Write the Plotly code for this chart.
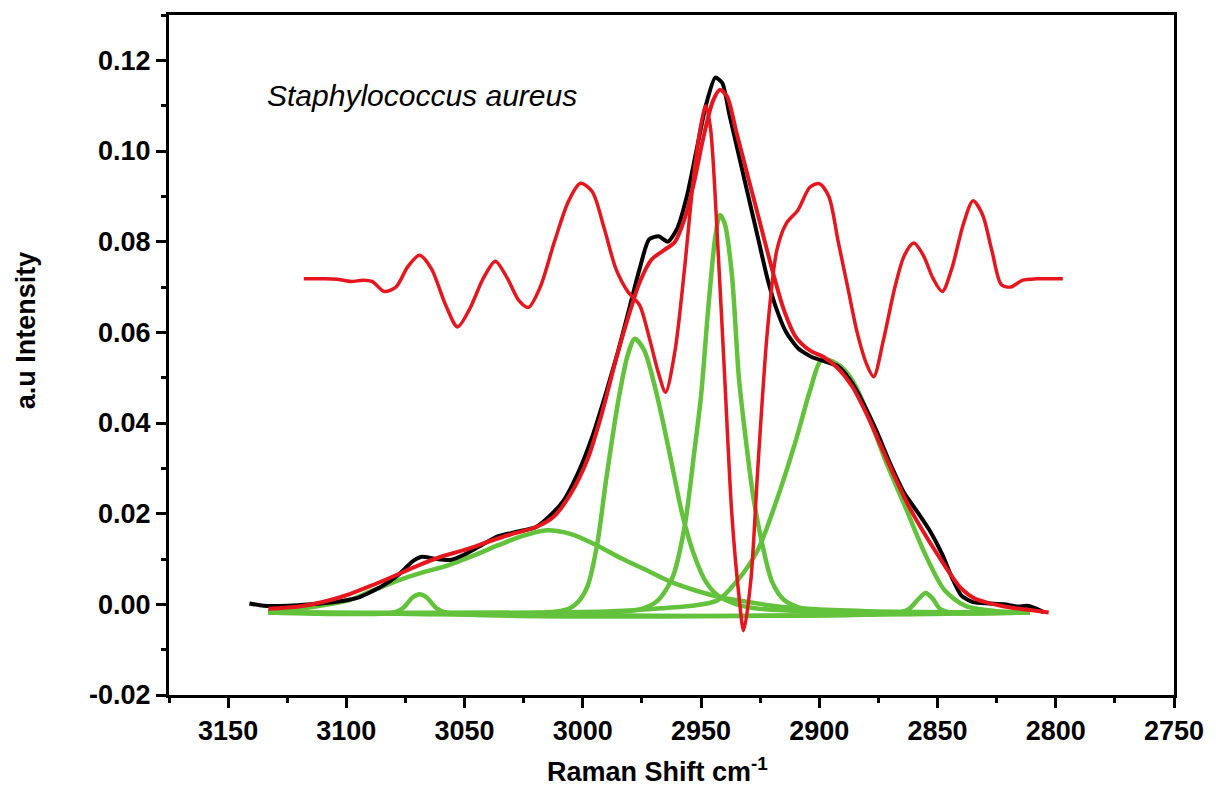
import plotly.graph_objects as go

# ---------------- data ----------------
spec_x = [3141, 3135, 3125, 3115, 3105, 3095, 3085, 3078, 3072, 3068, 3062, 3056, 3050, 3043,
          3036, 3028, 3020, 3014, 3008, 3002, 2996, 2990, 2985, 2980, 2976, 2972, 2968, 2964,
          2960, 2956, 2952, 2948, 2944, 2941, 2938, 2934, 2930, 2926, 2922, 2918, 2914, 2909,
          2903, 2897, 2892, 2887, 2882, 2876, 2870, 2864, 2858, 2853, 2848, 2844, 2840, 2835,
          2828, 2822, 2816, 2812, 2808, 2805]
spec_y = [0.0002, -0.0003, -0.0003, 0.0000, 0.0005, 0.0015, 0.0040, 0.0065, 0.0095, 0.0105,
          0.0100, 0.0098, 0.0110, 0.0130, 0.0150, 0.0160, 0.0170, 0.0195, 0.0230, 0.0290,
          0.0370, 0.0470, 0.0560, 0.0660, 0.0740, 0.0805, 0.0812, 0.0800, 0.0830, 0.0900,
          0.1000, 0.1100, 0.1162, 0.1150, 0.1080, 0.0990, 0.0900, 0.0810, 0.0720, 0.0650,
          0.0600, 0.0565, 0.0545, 0.0535, 0.0525, 0.0495, 0.0450, 0.0385, 0.0310, 0.0245,
          0.0200, 0.0160, 0.0110, 0.0060, 0.0020, 0.0005, 0.0002, 0.0000, -0.0005, -0.0003,
          -0.0010, -0.0018]

fit_x = [3133, 3120, 3110, 3100, 3090, 3080, 3070, 3060, 3050, 3040, 3030, 3020, 3012, 3005,
         2998, 2992, 2986, 2981, 2976, 2971, 2966, 2961, 2957, 2953, 2949, 2945, 2942, 2939,
         2935, 2930, 2925, 2920, 2915, 2910, 2904, 2898, 2892, 2886, 2880, 2874, 2868, 2862,
         2856, 2850, 2845, 2840, 2834, 2826, 2818, 2810, 2803]
fit_y = [-0.0010, -0.0005, 0.0005, 0.0020, 0.0040, 0.0062, 0.0085, 0.0105, 0.0120, 0.0138,
         0.0155, 0.0170, 0.0195, 0.0245, 0.0320, 0.0420, 0.0540, 0.0630, 0.0710, 0.0760,
         0.0780, 0.0800, 0.0850, 0.0930, 0.1030, 0.1110, 0.1135, 0.1120, 0.1040, 0.0940,
         0.0840, 0.0740, 0.0650, 0.0590, 0.0560, 0.0545, 0.0520, 0.0480, 0.0420, 0.0350,
         0.0280, 0.0215, 0.0160, 0.0110, 0.0070, 0.0035, 0.0012, 0.0000, -0.0008, -0.0013,
         -0.0018]

deriv_x = [3118, 3110, 3104, 3098, 3093, 3089, 3084, 3079, 3074, 3069, 3064, 3058, 3053, 3048,
           3042, 3037, 3032, 3027, 3023, 3018, 3012, 3006, 3001, 2996, 2991, 2986, 2981, 2976,
           2972, 2968, 2965, 2961, 2957, 2953, 2950, 2948, 2946, 2943, 2940, 2937, 2934, 2932,
           2929, 2926, 2922, 2918, 2914, 2909, 2904, 2900, 2896, 2892, 2888, 2884, 2880, 2877,
           2873, 2868, 2864, 2860, 2856, 2852, 2848, 2844, 2839, 2835, 2831, 2827, 2823, 2819,
           2814, 2808, 2797]
deriv_y = [0.0718, 0.0718, 0.0717, 0.0712, 0.0715, 0.0712, 0.0690, 0.0700, 0.0745, 0.0770,
           0.0740, 0.0660, 0.0612, 0.0650, 0.0720, 0.0757, 0.0720, 0.0670, 0.0655, 0.0700,
           0.0800, 0.0890, 0.0929, 0.0910, 0.0830, 0.0740, 0.0690, 0.0660, 0.0590, 0.0510,
           0.0468, 0.0560, 0.0740, 0.0950, 0.1060, 0.1100, 0.1050, 0.0800, 0.0500, 0.0200,
           0.0020, -0.0058, 0.0050, 0.0300, 0.0600, 0.0780, 0.0840, 0.0870, 0.0920, 0.0928,
           0.0900, 0.0800, 0.0700, 0.0600, 0.0530, 0.0502, 0.0580, 0.0700, 0.0770, 0.0797,
           0.0770, 0.0720, 0.0690, 0.0740, 0.0840, 0.0890, 0.0860, 0.0780, 0.0705, 0.0700,
           0.0715, 0.0718, 0.0718]

# fitted component bands
pk1_x = [3133, 3080, 3076, 3072, 3069, 3066, 3062, 3058, 2811]
pk1_y = [-0.0018, -0.0018, -0.0008, 0.0015, 0.0022, 0.0015, -0.0008, -0.0018, -0.0018]

pk2_x = [3133, 3120, 3110, 3099, 3090, 3078, 3068, 3057, 3046, 3036, 3026, 3016, 3005, 2994,
         2984, 2973, 2963, 2952, 2942, 2931, 2920, 2905, 2880, 2811]
pk2_y = [-0.0016, -0.0010, -0.0002, 0.0009, 0.0028, 0.0053, 0.0070, 0.0086, 0.0108, 0.0130,
         0.0150, 0.0163, 0.0155, 0.0130, 0.0102, 0.0075, 0.0050, 0.0030, 0.0016, 0.0006,
         -0.0003, -0.0010, -0.0015, -0.0018]

pk3_x = [3133, 3015, 3006, 3002, 2998, 2994, 2990, 2985, 2981, 2978, 2974, 2970, 2966, 2962,
         2958, 2953, 2948, 2943, 2935, 2925, 2900, 2811]
pk3_y = [-0.0018, -0.0018, -0.0010, 0.0005, 0.0040, 0.0130, 0.0280, 0.0449, 0.0550, 0.0586,
         0.0560, 0.0490, 0.0400, 0.0300, 0.0200, 0.0110, 0.0050, 0.0020, 0.0000, -0.0010,
         -0.0016, -0.0018]

pk4_x = [3133, 2990, 2975, 2968, 2962, 2957, 2953, 2950, 2947, 2944, 2942, 2940, 2937, 2934,
         2931, 2928, 2924, 2920, 2915, 2908, 2895, 2811]
pk4_y = [-0.0018, -0.0018, -0.0010, 0.0010, 0.0060, 0.0170, 0.0330, 0.0460, 0.0650, 0.0810,
         0.0859, 0.0840, 0.0730, 0.0500, 0.0360, 0.0240, 0.0130, 0.0050, 0.0010, -0.0008,
         -0.0016, -0.0018]

pk5_x = [3133, 2990, 2965, 2952, 2943, 2935, 2926, 2918, 2910, 2904, 2899, 2894, 2889, 2884,
         2880, 2872, 2863, 2855, 2847, 2838, 2825, 2811]
pk5_y = [-0.0018, -0.0016, -0.0008, -0.0002, 0.0009, 0.0050, 0.0120, 0.0230, 0.0360, 0.0470,
         0.0540, 0.0535, 0.0515, 0.0475, 0.0427, 0.0317, 0.0207, 0.0108, 0.0031, -0.0004,
         -0.0015, -0.0018]

pk6_x = [3133, 2866, 2862, 2858, 2855, 2852, 2849, 2845, 2811]
pk6_y = [-0.0018, -0.0018, -0.0010, 0.0012, 0.0025, 0.0012, -0.0010, -0.0018, -0.0018]

x_ticks = [3150, 3100, 3050, 3000, 2950, 2900, 2850, 2800, 2750]
y_ticks = [-0.02, 0.00, 0.02, 0.04, 0.06, 0.08, 0.10, 0.12]
y_tick_text = ["-0.02", "0.00", "0.02", "0.04", "0.06", "0.08", "0.10", "0.12"]

# ---------------- figure ----------------
GREEN = "#63c23c"
RED = "#e5161d"
FONT = "Liberation Sans, Arial, sans-serif"

fig = go.Figure()
for px_, py_ in [(pk1_x, pk1_y), (pk2_x, pk2_y), (pk3_x, pk3_y), (pk4_x, pk4_y),
                 (pk5_x, pk5_y), (pk6_x, pk6_y)]:
    fig.add_trace(go.Scatter(x=px_, y=py_, mode="lines",
                             line=dict(color=GREEN, width=4.5, shape="spline", smoothing=0.8),
                             showlegend=False, hoverinfo="skip"))

fig.add_trace(go.Scatter(x=spec_x, y=spec_y, mode="lines",
                         line=dict(color="black", width=4, shape="spline", smoothing=0.6),
                         showlegend=False))
fig.add_trace(go.Scatter(x=fit_x, y=fit_y, mode="lines",
                         line=dict(color=RED, width=4, shape="spline", smoothing=0.8),
                         showlegend=False))
fig.add_trace(go.Scatter(x=deriv_x, y=deriv_y, mode="lines",
                         line=dict(color=RED, width=3.5, shape="spline", smoothing=0.8),
                         showlegend=False))

axis_common = dict(showline=True, linecolor="black", linewidth=3, mirror=True,
                   ticks="outside", ticklen=10, tickwidth=3, tickcolor="black",
                   showgrid=False, zeroline=False,
                   tickfont=dict(family=FONT, size=27, color="black", weight="bold"))

fig.update_xaxes(range=[3175, 2750], tickvals=x_ticks,
                 minor=dict(ticks="outside", ticklen=5, tickwidth=3, tickcolor="black", dtick=25),
                 **axis_common)
fig.update_yaxes(range=[-0.02, 0.13], tickvals=y_ticks, ticktext=y_tick_text,
                 minor=dict(ticks="outside", ticklen=5, tickwidth=3, tickcolor="black", dtick=0.01),
                 **axis_common)

fig.add_annotation(text="<i>Staphylococcus aureus</i>", xref="paper", yref="paper",
                   x=(265 - 169) / 1010, y=(695 - 95) / 681, xanchor="left", yanchor="middle",
                   showarrow=False, font=dict(family=FONT, size=30, color="black"))
fig.add_annotation(text="Raman Shift cm<sup>-1</sup>", xref="paper", yref="paper",
                   x=(660 - 169) / 1010, y=(695 - 770) / 681, xanchor="center", yanchor="middle",
                   showarrow=False, font=dict(family=FONT, size=27, color="black", weight="bold"))
fig.add_annotation(text="a.u Intensity", xref="paper", yref="paper", textangle=-90,
                   x=(25 - 169) / 1010, y=(695 - 330) / 681, xanchor="center", yanchor="middle",
                   showarrow=False, font=dict(family=FONT, size=27, color="black", weight="bold"))

fig.update_layout(width=1216, height=787, autosize=False,
                  margin=dict(l=169, r=37, t=14, b=92),
                  plot_bgcolor="white", paper_bgcolor="white")

fig.write_html("out.html")
